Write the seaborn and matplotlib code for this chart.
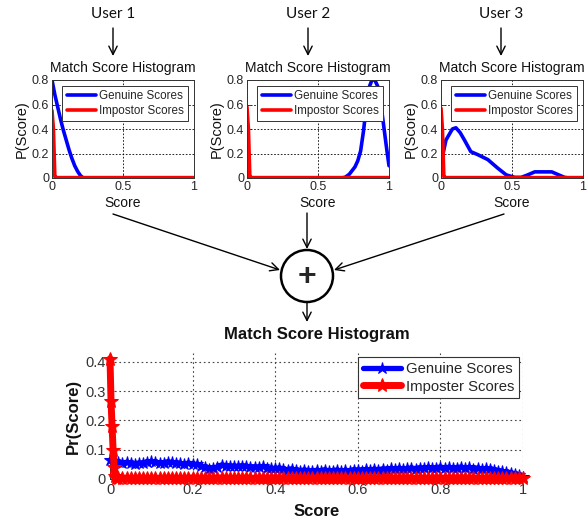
import numpy as np
import pandas as pd
import matplotlib
matplotlib.use("Agg")
import matplotlib.pyplot as plt
import seaborn as sns
from matplotlib.patches import Ellipse

# ---------------- data ----------------
USERS = ["User 1", "User 2", "User 3"]

U1_GEN_X = [0, 0.01, 0.02, 0.04, 0.06, 0.08, 0.10, 0.12, 0.14, 0.16, 0.18, 0.20, 0.22, 0.25, 0.5, 0.75, 1.0]
U1_GEN_Y = [0.80, 0.74, 0.68, 0.58, 0.48, 0.39, 0.31, 0.23, 0.16, 0.10, 0.055, 0.02, 0.0, 0, 0, 0, 0]
U1_IMP_X = [0, 0.01, 0.02, 0.03, 1.0]
U1_IMP_Y = [0.55, 0.40, 0.01, 0.003, 0.003]

U2_GEN_X = [0, 0.5, 0.66, 0.69, 0.72, 0.76, 0.78, 0.80, 0.82, 0.84, 0.86, 0.88, 0.90, 0.92, 0.94, 0.96, 0.98, 1.0]
U2_GEN_Y = [0, 0, 0, 0.005, 0.03, 0.09, 0.14, 0.22, 0.38, 0.58, 0.74, 0.80, 0.80, 0.75, 0.63, 0.45, 0.27, 0.10]
U2_IMP_X = [0, 0.01, 0.02, 0.03, 1.0]
U2_IMP_Y = [0.58, 0.40, 0.01, 0.003, 0.003]

U3_GEN_X = [0, 0.035, 0.08, 0.105, 0.135, 0.165, 0.21, 0.26, 0.33, 0.40, 0.46, 0.52, 0.565, 0.61, 0.66, 0.78, 0.82, 0.87, 0.9, 1.0]
U3_GEN_Y = [0.12, 0.31, 0.40, 0.41, 0.37, 0.31, 0.215, 0.19, 0.15, 0.08, 0.025, 0.005, 0.005, 0.025, 0.05, 0.05, 0.03, 0.005, 0, 0]
U3_IMP_X = [0, 0.01, 0.02, 0.03, 1.0]
U3_IMP_Y = [0.57, 0.40, 0.01, 0.003, 0.003]

# fused histogram
FUSED_GEN_X = np.round(np.linspace(0, 1, 101), 2)
FUSED_GEN_Y = [
    0.065, 0.060, 0.058, 0.055, 0.057, 0.053, 0.052, 0.055, 0.054, 0.058,
    0.060, 0.057, 0.055, 0.056, 0.059, 0.057, 0.055, 0.053, 0.052, 0.054,
    0.052, 0.050, 0.045, 0.040, 0.034, 0.036, 0.042, 0.048, 0.046, 0.044,
    0.045, 0.043, 0.046, 0.044, 0.041, 0.042, 0.040, 0.043, 0.039, 0.037,
    0.036, 0.038, 0.034, 0.032, 0.035, 0.030, 0.028, 0.031, 0.029, 0.027,
    0.030, 0.028, 0.032, 0.027, 0.029, 0.031, 0.026, 0.030, 0.028, 0.032,
    0.031, 0.029, 0.033, 0.030, 0.034, 0.031, 0.035, 0.032, 0.036, 0.033,
    0.037, 0.034, 0.036, 0.038, 0.035, 0.039, 0.036, 0.040, 0.037, 0.039,
    0.041, 0.038, 0.040, 0.036, 0.039, 0.041, 0.037, 0.040, 0.035, 0.038,
    0.034, 0.036, 0.033, 0.031, 0.029, 0.026, 0.024, 0.022, 0.018, 0.014,
    0.008]
FUSED_IMP_HEAD_X = [0, 0.0025, 0.005, 0.0075, 0.01, 0.0125, 0.015]
FUSED_IMP_HEAD_Y = [0.41, 0.265, 0.18, 0.10, 0.04, 0.01, 0.005]
FUSED_IMP_TAIL_X = np.round(np.linspace(0.02, 1, 99), 2)
FUSED_IMP_TAIL_Y = [
    0.004, 0.003, 0.003, 0.002, 0.003, 0.004, 0.003, 0.002, 0.003, 0.003,
    0.002, 0.003, 0.004, 0.003, 0.003, 0.002, 0.003, 0.003, 0.004, 0.003,
    0.002, 0.003, 0.003, 0.002, 0.003, 0.004, 0.003, 0.003, 0.002, 0.003,
    0.003, 0.004, 0.003, 0.002, 0.003, 0.003, 0.002, 0.003, 0.004, 0.003,
    0.003, 0.002, 0.003, 0.003, 0.004, 0.003, 0.002, 0.003, 0.003, 0.002,
    0.003, 0.004, 0.003, 0.003, 0.002, 0.003, 0.003, 0.004, 0.003, 0.002,
    0.003, 0.003, 0.002, 0.003, 0.004, 0.003, 0.003, 0.002, 0.003, 0.003,
    0.004, 0.003, 0.002, 0.003, 0.003, 0.002, 0.003, 0.004, 0.003, 0.003,
    0.002, 0.003, 0.003, 0.004, 0.003, 0.002, 0.003, 0.003, 0.002, 0.003,
    0.004, 0.003, 0.003, 0.002, 0.003, 0.003, 0.004, 0.003, 0.003]

TOP_XTICKS = [0, 0.5, 1]
TOP_XTICKLABELS = ["0", "0.5", "1"]
TOP_YTICKS = [0, 0.2, 0.4, 0.6, 0.8]
TOP_YTICKLABELS = ["0", "0.2", "0.4", "0.6", "0.8"]
BOT_XTICKS = [0, 0.2, 0.4, 0.6, 0.8, 1]
BOT_XTICKLABELS = ["0", "0.2", "0.4", "0.6", "0.8", "1"]
BOT_YTICKS = [0, 0.1, 0.2, 0.3, 0.4]
BOT_YTICKLABELS = ["0", "0.1", "0.2", "0.3", "0.4"]

# ---------------- style ----------------
sns.set_style("ticks")
plt.rcParams['font.family'] = ['Liberation Sans', 'DejaVu Sans']

W, H = 588, 520
fig = plt.figure(figsize=(W / 100, H / 100), dpi=100)


def rect(l, t, r, b):
    return [l / W, 1 - b / H, (r - l) / W, (b - t) / H]


BLUE = '#0000ff'
RED = '#ff0000'
TXT = '#262626'

# overlay for the block-diagram arrows
over = fig.add_axes([0, 0, 1, 1], zorder=-5)
over.set_xlim(0, W)
over.set_ylim(H, 0)
over.axis('off')

top_rects = [rect(52, 80, 194, 178), rect(247, 80, 389, 178), rect(441, 80, 583, 178)]
top_data = [(U1_GEN_X, U1_GEN_Y, U1_IMP_X, U1_IMP_Y),
            (U2_GEN_X, U2_GEN_Y, U2_IMP_X, U2_IMP_Y),
            (U3_GEN_X, U3_GEN_Y, U3_IMP_X, U3_IMP_Y)]
user_x = [113, 308, 501]

for r, (gx, gy, ix, iy) in zip(top_rects, top_data):
    ax = fig.add_axes(r)
    sns.lineplot(x=gx, y=gy, ax=ax, color=BLUE, lw=2.6, label='Genuine Scores',
                 errorbar=None, sort=False)
    sns.lineplot(x=ix, y=iy, ax=ax, color=RED, lw=2.6, label='Impostor Scores',
                 errorbar=None, sort=False)
    ax.set_xlim(0, 1)
    ax.set_ylim(0, 0.8)
    ax.set_xticks(TOP_XTICKS)
    ax.set_xticklabels(TOP_XTICKLABELS)
    ax.set_yticks(TOP_YTICKS)
    ax.set_yticklabels(TOP_YTICKLABELS)
    ax.grid(True, ls=(0, (2, 2)), color='k', lw=0.6)
    ax.tick_params(direction='in', length=3, width=0.6, labelsize=9, colors=TXT, pad=2)
    for s in ax.spines.values():
        s.set_visible(True)
        s.set_linewidth(0.7)
        s.set_color('#333333')
    ax.set_title('Match Score Histogram', fontsize=10, pad=6, color='#111111')
    ax.set_xlabel('Score', fontsize=10, labelpad=2, color='#111111')
    ax.set_ylabel('P(Score)', fontsize=10.5, labelpad=2, color='#111111')
    ax.legend(loc='upper right', frameon=True, fancybox=False, edgecolor='#333333',
              framealpha=1, fontsize=8.4, handlelength=2.5, borderaxespad=0.5,
              borderpad=0.35, labelspacing=0.25, handletextpad=0.3)
    ax.get_legend().get_frame().set_linewidth(0.7)

# user labels and arrows
for name, ux in zip(USERS, user_x):
    over.text(ux, 14, name, ha='center', va='center', fontsize=11,
              family=['Lato', 'DejaVu Sans'], color='#111111')
    over.annotate('', xy=(ux, 56), xytext=(ux, 28),
                  arrowprops=dict(arrowstyle='->,head_length=0.6,head_width=0.3',
                                  lw=1, color='k', shrinkA=0, shrinkB=0))

# arrows to summation node
CX, CY, CR = 307, 276, 26
arrow_kw = dict(arrowstyle='->,head_length=0.6,head_width=0.3', lw=1, color='k',
                shrinkA=0, shrinkB=0)
over.annotate('', xy=(280, 270), xytext=(113, 214), arrowprops=arrow_kw)
over.annotate('', xy=(CX, CY - CR - 1), xytext=(CX, 213), arrowprops=arrow_kw)
over.annotate('', xy=(334, 270), xytext=(504, 214), arrowprops=arrow_kw)
over.annotate('', xy=(CX, 322), xytext=(CX, CY + CR), arrowprops=arrow_kw)
over.add_patch(Ellipse((CX, CY), 2 * CR, 2 * CR, fill=False, lw=1.8, color='k'))
over.text(CX, CY + 1, '+', ha='center', va='center', fontsize=23, fontweight='bold')

# fused histogram
axb = fig.add_axes(rect(110, 353, 523, 479))
imp_x = list(FUSED_IMP_HEAD_X) + list(FUSED_IMP_TAIL_X)
imp_y = list(FUSED_IMP_HEAD_Y) + list(FUSED_IMP_TAIL_Y)
sns.lineplot(x=FUSED_GEN_X, y=FUSED_GEN_Y, ax=axb, color=BLUE, lw=3.8, marker='*',
             markersize=9, markeredgecolor=BLUE, label='Genuine Scores',
             errorbar=None, sort=False, clip_on=False, zorder=3)
sns.lineplot(x=imp_x, y=imp_y, ax=axb, color=RED, lw=5, marker='*',
             markersize=10, markeredgecolor=RED, label='Imposter Scores',
             errorbar=None, sort=False, clip_on=False, zorder=4)
axb.set_xlim(0, 1)
axb.set_ylim(0, 0.43)
axb.set_xticks(BOT_XTICKS)
axb.set_xticklabels(BOT_XTICKLABELS)
axb.set_yticks(BOT_YTICKS)
axb.set_yticklabels(BOT_YTICKLABELS)
axb.grid(True, ls=(0, (1.5, 2.5)), color='#444444', lw=0.8)
axb.tick_params(direction='in', length=3, width=0.6, labelsize=10.5, colors='#333333', pad=3)
for side in ['top', 'right']:
    axb.spines[side].set_visible(False)
for side in ['left', 'bottom']:
    axb.spines[side].set_linewidth(0.7)
    axb.spines[side].set_color('#333333')
axb.set_title('Match Score Histogram', fontsize=12, fontweight='bold', pad=10, color='#111111')
axb.set_xlabel('Score', fontsize=12, fontweight='bold', labelpad=5, color='#111111')
axb.set_ylabel('Pr(Score)', fontsize=12, fontweight='bold', labelpad=3, color='#111111')
lg = axb.legend(loc='upper right', frameon=True, fancybox=False, edgecolor='#333333',
                framealpha=1, fontsize=10.7, handlelength=2.6, borderaxespad=0.3,
                borderpad=0.3, labelspacing=0.25, handletextpad=0.3,
                bbox_to_anchor=(1.0, 1.0))
lg.get_frame().set_linewidth(0.8)

fig.savefig('out.png', dpi=100)
